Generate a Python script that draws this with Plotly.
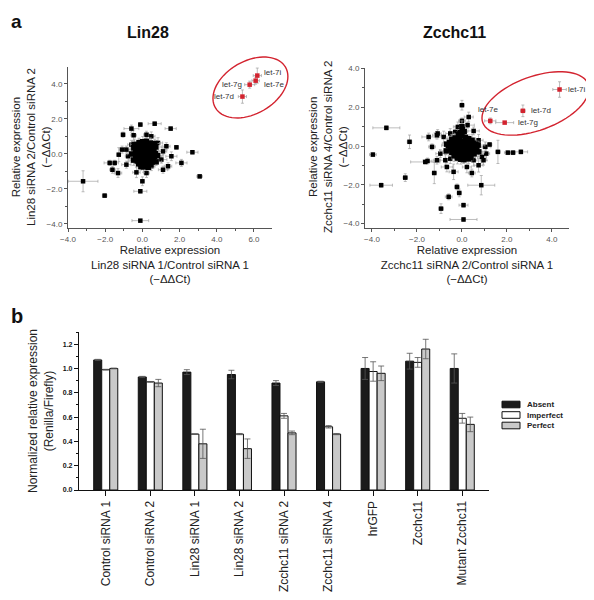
import numpy as np
import plotly.graph_objects as go

FONT = "Liberation Sans, Arial, sans-serif"
OFF = 8                 # page body margin of the html page
W, H = 594 - OFF, 600 - OFF


def fx(px):
    return (px - OFF) / W


def fy(py):
    return 1 - (py - OFF) / H


# ---------------- Panel a: Lin28 ----------------
lin28_core_x = [-0.26,-0.13,0.00,0.14,0.27,0.40,0.52,
                -0.33,-0.20,-0.06,0.07,0.20,0.34,0.47,0.62,
                -0.38,-0.24,-0.10,0.02,0.16,0.30,0.42,0.56,0.70,
                -0.30,-0.16,-0.03,0.10,0.24,0.37,0.50,0.64,
                -0.36,-0.22,-0.08,0.06,0.18,0.32,0.45,0.58,
                -0.28,-0.14,0.00,0.12,0.26,0.39,0.52,
                -0.20,-0.06,0.08,0.22,0.34,0.46,
                -0.08,0.06,0.20,0.32,
                0.02,0.22,-0.18,0.42,0.72,-0.48,-0.46,0.74,0.67,-0.43,0.82,-0.58]
lin28_core_y = [0.42,0.55,0.48,0.60,0.50,0.44,0.35,
                0.25,0.30,0.32,0.36,0.30,0.28,0.20,0.22,
                0.08,0.12,0.15,0.10,0.14,0.10,0.06,0.05,0.02,
                -0.05,-0.02,-0.06,-0.03,-0.08,-0.05,-0.10,-0.14,
                -0.22,-0.18,-0.24,-0.20,-0.22,-0.25,-0.28,-0.30,
                -0.40,-0.36,-0.42,-0.38,-0.40,-0.44,-0.46,
                -0.56,-0.58,-0.55,-0.60,-0.58,-0.62,
                -0.72,-0.74,-0.70,-0.76,
                0.70,0.72,0.65,0.62,0.40,-0.35,0.35,-0.45,0.60,0.55,-0.10,0.00]
lin28_core_ex = [0.20,0.15,0.25,0.10,0.20,0.30,0.15,
                 0.25,0.10,0.20,0.15,0.30,0.20,0.10,0.25,
                 0.30,0.20,0.15,0.10,0.25,0.20,0.15,0.30,0.20,
                 0.15,0.25,0.10,0.20,0.15,0.30,0.20,0.25,
                 0.20,0.30,0.15,0.10,0.20,0.25,0.15,0.20,
                 0.25,0.15,0.20,0.30,0.10,0.20,0.25,
                 0.20,0.15,0.25,0.10,0.20,0.15,
                 0.25,0.20,0.15,0.30,
                 0.20,0.25,0.15,0.20,0.30,0.25,0.20,0.30,0.25,0.20,0.30,0.25]
lin28_core_ey = [0.15,0.25,0.20,0.30,0.10,0.20,0.25,
                 0.20,0.30,0.15,0.20,0.10,0.25,0.30,0.15,
                 0.20,0.10,0.25,0.30,0.15,0.20,0.25,0.10,0.20,
                 0.30,0.15,0.20,0.25,0.10,0.20,0.15,0.30,
                 0.25,0.20,0.30,0.15,0.25,0.10,0.20,0.30,
                 0.15,0.25,0.30,0.20,0.15,0.25,0.20,
                 0.30,0.20,0.15,0.25,0.30,0.20,
                 0.20,0.30,0.25,0.15,
                 0.30,0.20,0.25,0.30,0.20,0.30,0.25,0.20,0.25,0.30,0.20,0.25]

lin28_out_x = [-3.19,-2.03,-0.11,-0.11,0.00,3.08,2.69,1.83,2.10,1.52,0.66,-0.11,-0.59,-1.04,-0.47,
               -1.27,-1.76,-1.49,-1.61,-1.31,-0.86,-0.32,0.22,0.48,1.11,1.38,1.56,1.11,0.84,0.48,
               0.22,-0.86,-0.77,0.57,1.02,1.29,-1.09,-0.59]
lin28_out_y = [-1.56,-2.38,-3.81,-2.13,-1.56,-1.28,0.10,0.38,-0.51,1.45,1.73,1.68,1.45,1.10,1.07,
               -0.04,-0.51,-0.51,-0.90,-1.09,-0.61,-1.05,-1.09,-0.70,-0.90,-0.70,-0.13,0.15,0.63,1.01,
               1.10,0.25,-0.13,-0.32,-0.32,0.44,0.25,0.53]
lin28_out_ex = [0.80,0.12,0.45,0.35,0.10,0.15,0.30,0.10,0.30,0.30,0.35,0.10,0.40,0.10,0.15,
                0.10,0.30,0.20,0.15,0.20,0.25,0.20,0.15,0.20,0.25,0.20,0.30,0.20,0.25,0.20,
                0.15,0.20,0.15,0.20,0.30,0.20,0.15,0.20]
lin28_out_ey = [0.60,0.10,0.05,0.10,0.25,0.10,0.10,0.10,0.20,0.10,0.10,0.10,0.20,0.15,0.30,
                0.40,0.15,0.15,0.20,0.25,0.20,0.30,0.25,0.25,0.20,0.20,0.25,0.20,0.30,0.25,
                0.20,0.20,0.30,0.25,0.20,0.20,0.20,0.25]

lin28_mir = ["let-7i", "let-7e", "let-7g", "let-7d"]
lin28_mir_x = [6.18, 6.09, 5.77, 5.38]
lin28_mir_y = [4.48, 4.19, 3.96, 3.28]
lin28_mir_ex = [0.22, 0.20, 0.27, 0.22]
lin28_mir_ey = [0.43, 0.20, 0.20, 0.38]

# ---------------- Panel a: Zcchc11 ----------------
zc_core_x = [-0.45,-0.30,-0.15,0.00,0.15,0.30,0.45,
             -0.55,-0.40,-0.25,-0.10,0.05,0.20,0.35,0.50,0.62,
             -0.60,-0.46,-0.32,-0.18,-0.04,0.10,0.24,0.38,0.52,0.66,
             -0.52,-0.38,-0.24,-0.10,0.04,0.18,0.32,0.46,0.60,
             -0.45,-0.30,-0.16,-0.02,0.12,0.26,0.40,0.54,
             -0.35,-0.20,-0.05,0.10,0.25,0.40,
             -0.08,0.02,-0.15,0.10,0.00,-0.05,0.08,
             -0.70,0.75,-0.68,0.72,-0.20,0.30]
zc_core_y = [0.35,0.42,0.50,0.55,0.45,0.38,0.30,
             0.18,0.22,0.28,0.30,0.25,0.24,0.20,0.15,0.10,
             0.02,0.05,0.08,0.10,0.06,0.04,0.02,0.00,-0.02,-0.06,
             -0.15,-0.12,-0.10,-0.14,-0.16,-0.12,-0.18,-0.20,-0.22,
             -0.32,-0.30,-0.34,-0.28,-0.32,-0.36,-0.38,-0.40,
             -0.50,-0.52,-0.48,-0.55,-0.52,-0.58,
             0.70,0.85,0.62,0.75,1.00,-0.68,-0.70,
             -0.25,-0.30,0.10,0.05,-0.62,-0.66]
zc_core_ex = [0.20,0.15,0.25,0.10,0.20,0.30,0.15,
              0.25,0.10,0.20,0.15,0.30,0.20,0.10,0.25,0.20,
              0.30,0.20,0.15,0.10,0.25,0.20,0.15,0.30,0.20,0.25,
              0.15,0.25,0.10,0.20,0.15,0.30,0.20,0.25,0.15,
              0.20,0.30,0.15,0.10,0.20,0.25,0.15,0.20,
              0.25,0.15,0.20,0.30,0.10,0.20,
              0.15,0.10,0.20,0.15,0.10,0.20,0.25,
              0.30,0.25,0.20,0.30,0.25,0.20]
zc_core_ey = [0.25,0.20,0.30,0.15,0.25,0.20,0.30,
              0.20,0.30,0.15,0.25,0.20,0.30,0.25,0.20,0.15,
              0.30,0.25,0.20,0.15,0.30,0.20,0.25,0.15,0.30,0.20,
              0.25,0.20,0.30,0.15,0.25,0.30,0.20,0.25,0.30,
              0.20,0.25,0.30,0.20,0.15,0.25,0.30,0.20,
              0.30,0.25,0.20,0.30,0.25,0.20,
              0.25,0.30,0.20,0.25,0.30,0.25,0.20,
              0.20,0.25,0.30,0.20,0.30,0.25]

zc_out_x = [-3.96,-3.36,-3.59,-2.33,-2.52,-1.23,-1.48,-1.08,-1.33,-1.63,-1.53,-0.93,-0.59,-0.22,-0.12,
            0.07,0.07,0.00,0.00,0.86,1.23,1.60,2.04,2.27,2.62,0.44,-0.37,0.25,-0.18,0.52,
            0.89,0.96,-1.11,-0.81,-0.52,-0.37,0.74,1.04,1.08,-0.96,-0.74,-0.52,0.52,0.74,-0.67,
            0.22,-1.11,0.30,-0.30]
zc_out_y = [-0.44,0.94,-2.02,0.22,-1.63,-1.39,0.47,0.65,-0.04,-0.82,-0.77,-3.23,-2.62,-2.11,-2.42,
            -3.05,-3.79,2.11,1.30,-2.02,0.08,-0.30,-0.34,-0.34,-0.30,-1.39,-1.33,1.08,0.99,0.78,
            -0.56,-0.73,0.56,0.47,0.65,0.30,0.30,-0.04,-0.39,-0.39,-0.73,-0.65,-0.73,-0.99,-1.08,
            -1.08,-0.73,1.50,0.73]
zc_out_ex = [0.15,0.60,0.50,0.10,0.10,0.10,0.30,0.15,0.15,0.65,0.20,0.10,0.15,0.10,0.10,
             0.20,0.60,0.10,0.15,0.60,0.10,0.10,0.15,0.10,0.30,0.15,0.20,0.30,0.20,0.25,
             0.20,0.15,0.20,0.25,0.20,0.15,0.20,0.25,0.15,0.20,0.25,0.20,0.15,0.20,0.25,
             0.20,0.15,0.20,0.25]
zc_out_ey = [0.10,0.10,0.10,0.35,0.20,0.55,0.20,0.20,0.15,0.10,0.15,0.25,0.15,0.15,0.20,
             0.10,0.10,0.25,0.15,0.50,0.10,0.60,0.10,0.10,0.10,0.20,0.40,0.15,0.25,0.20,
             0.30,0.25,0.20,0.30,0.25,0.20,0.30,0.25,0.35,0.20,0.30,0.25,0.30,0.35,0.25,
             0.30,0.20,0.25,0.30]

zc_mir = ["let-7i", "let-7d", "let-7e", "let-7g"]
zc_mir_x = [4.34, 2.71, 1.26, 1.90]
zc_mir_y = [2.92, 1.82, 1.30, 1.21]
zc_mir_ex = [0.30, 0.10, 0.25, 0.40]
zc_mir_ey = [0.40, 0.30, 0.15, 0.05]

# ---------------- Panel b: bars ----------------
categories = ["Control siRNA 1", "Control siRNA 2", "Lin28 siRNA 1", "Lin28 siRNA 2",
              "Zcchc11 siRNA 2", "Zcchc11 siRNA 4", "hrGFP", "Zcchc11", "Mutant Zcchc11"]
absent = [1.07, 0.93, 0.97, 0.95, 0.88, 0.89, 1.00, 1.06, 1.00]
absent_err = [0.005, 0.005, 0.02, 0.035, 0.02, 0.005, 0.09, 0.065, 0.12]
imperfect = [0.99, 0.89, 0.46, 0.46, 0.61, 0.52, 0.975, 1.05, 0.59]
imperfect_err = [0.003, 0.003, 0.0, 0.005, 0.02, 0.01, 0.08, 0.04, 0.04]
perfect = [1.00, 0.88, 0.38, 0.34, 0.47, 0.46, 0.96, 1.16, 0.54]
perfect_err = [0.003, 0.03, 0.12, 0.08, 0.015, 0.005, 0.06, 0.08, 0.06]
legend_names = ["Absent", "Imperfect", "Perfect"]

# ---------------- layout geometry (reference pixel positions) ----------------
AX1 = dict(dom_x=[fx(68), fx(272)], dom_y=[fy(228), fy(67)], rx=[-4.0, 6.97], ry=[-4.23, 4.97])
AX2 = dict(dom_x=[fx(365), fx(569)], dom_y=[fy(228), fy(68)], rx=[-4.31, 4.76], ry=[-4.23, 4.03])
AX3 = dict(dom_x=[fx(79), fx(489)], dom_y=[fy(490), fy(332)], ry=[0, 1.3])

RED = "#d3232f"
ERRC = "#a0a0a0"

fig = go.Figure()


def scatter_panel(xs, ys, exs, eys, xa, ya, color, size):
    fig.add_trace(go.Scatter(
        x=xs, y=ys, mode="markers", xaxis=xa, yaxis=ya,
        marker=dict(symbol="square", size=size, color=color, line=dict(width=0)),
        error_x=dict(type="data", array=exs, color=ERRC, thickness=0.7, width=1.5),
        error_y=dict(type="data", array=eys, color=ERRC, thickness=0.7, width=1.5),
        hoverinfo="skip", showlegend=False))


scatter_panel(lin28_out_x, lin28_out_y, lin28_out_ex, lin28_out_ey, "x", "y", "black", 4.5)
scatter_panel(lin28_core_x, lin28_core_y, lin28_core_ex, lin28_core_ey, "x", "y", "black", 5.5)
scatter_panel(lin28_mir_x, lin28_mir_y, lin28_mir_ex, lin28_mir_ey, "x", "y", RED, 4.5)
scatter_panel(zc_out_x, zc_out_y, zc_out_ex, zc_out_ey, "x2", "y2", "black", 4.5)
scatter_panel(zc_core_x, zc_core_y, zc_core_ex, zc_core_ey, "x2", "y2", "black", 5.5)
scatter_panel(zc_mir_x, zc_mir_y, zc_mir_ex, zc_mir_ey, "x2", "y2", RED, 4.5)

# bars
bar_fill = ["#1b1b1b", "#ffffff", "#c9c9c9"]
for name, vals, errs, col in zip(legend_names, [absent, imperfect, perfect],
                                 [absent_err, imperfect_err, perfect_err], bar_fill):
    fig.add_trace(go.Bar(
        x=categories, y=vals, name=name, xaxis="x3", yaxis="y3",
        marker=dict(color=col, line=dict(color="#111", width=1)),
        error_y=dict(type="data", array=errs, color="#555", thickness=0.8, width=3),
        showlegend=False, hoverinfo="skip"))

scatter_axis = dict(showline=True, linecolor="#555", linewidth=1, ticks="outside", ticklen=3,
                    tickcolor="#555", tickwidth=1, tickfont=dict(size=8, color="#555"),
                    tickformat=".1f", dtick=2, tick0=0, showgrid=False, zeroline=False,
                    automargin=False,
                    minor=dict(ticks="outside", dtick=1, ticklen=2, tickcolor="#555"))
TFONT = dict(size=11.5, color="#222")

fig.update_layout(
    template="none",
    width=W, height=H, margin=dict(l=0, r=0, t=0, b=0, autoexpand=False),
    paper_bgcolor="white", plot_bgcolor="white",
    font=dict(family=FONT, color="#222"),
    showlegend=False,
    barmode="group", bargap=0.46, bargroupgap=0,
    xaxis=dict(scatter_axis, domain=AX1["dom_x"], range=AX1["rx"], anchor="y",
               title=dict(text="Relative expression<br>Lin28 siRNA 1/Control siRNA 1<br>(−ΔΔCt)",
                          font=TFONT, standoff=2)),
    yaxis=dict(scatter_axis, domain=AX1["dom_y"], range=AX1["ry"], anchor="x"),
    xaxis2=dict(scatter_axis, domain=AX2["dom_x"], range=AX2["rx"], anchor="y2",
                title=dict(text="Relative expression<br>Zcchc11 siRNA 2/Control siRNA 1<br>(−ΔΔCt)",
                           font=TFONT, standoff=2)),
    yaxis2=dict(scatter_axis, domain=AX2["dom_y"], range=AX2["ry"], anchor="x2"),
    xaxis3=dict(domain=AX3["dom_x"], anchor="y3", type="category", range=[-0.6, 8.6],
                showline=True, linecolor="#111", linewidth=1.2, ticks="outside", ticklen=5,
                tickcolor="#111", tickangle=-90, tickfont=dict(size=12, color="#222"),
                showgrid=False, zeroline=False, automargin=False),
    yaxis3=dict(domain=AX3["dom_y"], anchor="x3", range=AX3["ry"], dtick=0.2, tick0=0,
                tickformat=".1f", showline=True, linecolor="#111", linewidth=1.2,
                ticks="outside", ticklen=4, tickcolor="#111",
                tickfont=dict(size=7, color="#111", weight="bold"),
                minor=dict(ticks="outside", dtick=0.1, ticklen=2, tickcolor="#111"),
                showgrid=False, zeroline=False, automargin=False,
                title=dict(text="Normalized relative expression<br>(Renilla/Firefly)",
                           font=dict(size=12, color="#222"), standoff=6)),
)


def note(xp, yp, text, font, xanchor="center", yanchor="middle", **kw):
    fig.add_annotation(x=fx(xp), y=fy(yp), xref="paper", yref="paper", text=text,
                       showarrow=False, xanchor=xanchor, yanchor=yanchor, font=font, **kw)


# rotated y-axis titles of the two scatter panels
note(31, 147, "Relative expression<br>Lin28 siRNA 2/Control siRNA 2<br>(−ΔΔCt)", TFONT, textangle=-90)
note(328, 147, "Relative expression<br>Zcchc11 siRNA 4/Control siRNA 2<br>(−ΔΔCt)", TFONT, textangle=-90)


def to_paper(ax, x, y):
    px = ax["dom_x"][0] + (x - ax["rx"][0]) / (ax["rx"][1] - ax["rx"][0]) * (ax["dom_x"][1] - ax["dom_x"][0])
    py = ax["dom_y"][0] + (y - ax["ry"][0]) / (ax["ry"][1] - ax["ry"][0]) * (ax["dom_y"][1] - ax["dom_y"][0])
    return px, py


def ellipse_path(ax, cx, cy, a_px, b_px, ang_deg):
    px0, py0 = to_paper(ax, cx, cy)
    th = np.deg2rad(ang_deg)
    t = np.linspace(0, 2 * np.pi, 73)
    dx = a_px * np.cos(t) * np.cos(th) - b_px * np.sin(t) * np.sin(th)
    dy = a_px * np.cos(t) * np.sin(th) + b_px * np.sin(t) * np.cos(th)
    xs = px0 + dx / W
    ys = py0 + dy / H
    return "M " + " L ".join(f"{u:.5f},{v:.5f}" for u, v in zip(xs, ys)) + " Z"


fig.add_shape(type="path", xref="paper", yref="paper",
              path=ellipse_path(AX1, 5.81, 3.80, 40.5, 26.3, 30), line=dict(color=RED, width=1.4))
fig.add_shape(type="path", xref="paper", yref="paper",
              path=ellipse_path(AX2, 3.27, 2.20, 56.1, 26.9, 20), line=dict(color=RED, width=1.4))

LAB = dict(size=8, color="#333")
lin28_lab_pos = {"let-7i": ("left", 5, 3), "let-7e": ("left", 6, -4),
                 "let-7g": ("right", -6, 0), "let-7d": ("right", -6, 0)}
for n, x, y in zip(lin28_mir, lin28_mir_x, lin28_mir_y):
    anc, xs, ys = lin28_lab_pos[n]
    fig.add_annotation(x=x, y=y, xref="x", yref="y", text=n, showarrow=False, xanchor=anc,
                       yanchor="middle", xshift=xs, yshift=ys, font=LAB)
zc_lab_pos = {"let-7i": ("left", 6, 0), "let-7d": ("left", 6, 0),
              "let-7e": ("center", -2, 11), "let-7g": ("left", 11, 0)}
for n, x, y in zip(zc_mir, zc_mir_x, zc_mir_y):
    anc, xs, ys = zc_lab_pos[n]
    fig.add_annotation(x=x, y=y, xref="x2", yref="y2", text=n, showarrow=False, xanchor=anc,
                       yanchor="middle", xshift=xs, yshift=ys, font=LAB)

# panel titles and letters
note(148, 32, "<b>Lin28</b>", dict(size=16, color="#111"))
note(454, 32, "<b>Zcchc11</b>", dict(size=16, color="#111"))
note(9, 9, "<b>a</b>", dict(size=19, color="#111"), xanchor="left", yanchor="top")
note(9, 316, "<b>b</b>", dict(size=20, color="#111"), xanchor="left")

# legend for bars (key boxes + labels)
leg_rows = [404.5, 415, 425.5]
for name, col, yc in zip(legend_names, bar_fill, leg_rows):
    fig.add_shape(type="rect", xref="paper", yref="paper",
                  x0=fx(502), x1=fx(520), y0=fy(yc + 3.3), y1=fy(yc - 3.3),
                  fillcolor=col, line=dict(color="#111", width=1))
    note(525, yc, f"<b>{name}</b>", dict(size=8, color="#222"), xanchor="left")

fig.write_html("out.html")
